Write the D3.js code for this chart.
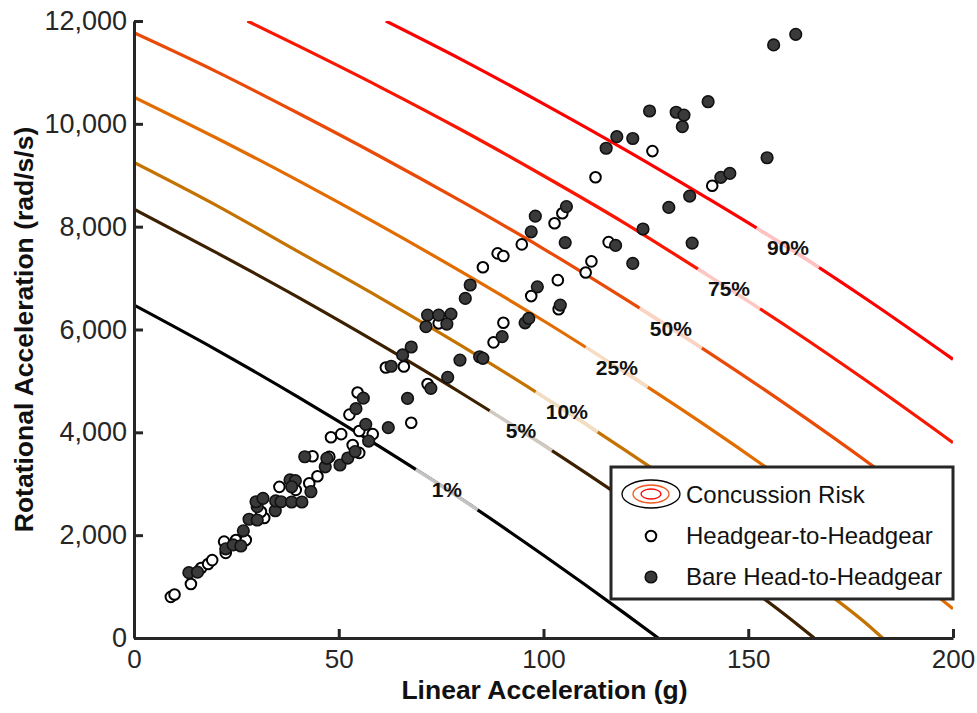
<!DOCTYPE html>
<html>
<head>
<meta charset="utf-8">
<script src="https://cdn.jsdelivr.net/npm/d3@7"></script>
<style>
  html, body { margin: 0; padding: 0; background: #fff; }
  svg { display: block; font-family: "Liberation Sans", Arial, Helvetica, sans-serif; }
</style>
</head>
<body>
<svg id="chart" width="977" height="713"></svg>
<script>
// ---- Impact data: [linear acceleration (g), rotational acceleration (rad/s/s)] ----
const headgearToHeadgear = [
  [9.0, 800], [9.9, 845], [13.9, 1050], [16.4, 1360], [18.1, 1440], [19.1, 1515],
  [22.4, 1655], [22.0, 1875], [24.9, 1905], [27.3, 1905], [31.8, 2335], [31.0, 2455],
  [35.5, 2940], [39.5, 2880], [42.8, 3010], [44.8, 3145], [43.6, 3535], [47.7, 3525],
  [55.0, 3600], [48.1, 3905], [50.6, 3965], [53.4, 3755], [58.3, 3965], [55.0, 4025],
  [52.6, 4345], [54.6, 4775], [67.7, 4185], [71.7, 4940], [61.5, 5260], [65.9, 5280],
  [74.4, 6120], [85.2, 7210], [88.8, 7480], [90.2, 7430], [94.7, 7655], [102.7, 8065],
  [104.6, 8260], [110.3, 7110], [111.7, 7325], [103.5, 6960], [97.0, 6650], [103.7, 6395],
  [90.2, 6130], [87.8, 5750], [115.9, 7700], [112.7, 8960], [126.6, 9470], [141.2, 8795]
];

const bareHeadToHeadgear = [
  [13.4, 1270], [15.5, 1280], [22.4, 1735], [24.2, 1810], [26.1, 1790], [26.7, 2085],
  [28.1, 2310], [30.1, 2295], [30.1, 2555], [29.8, 2650], [31.5, 2715], [34.5, 2475],
  [34.6, 2665], [35.9, 2650], [38.5, 2645], [41.0, 2645], [38.1, 3075], [39.4, 3060],
  [38.5, 2940], [43.2, 2845], [41.7, 3525], [46.7, 3330], [47.1, 3495], [50.3, 3365],
  [52.2, 3500], [54.0, 3625], [57.3, 3830], [56.6, 4155], [54.2, 4460], [56.0, 4665],
  [62.1, 4090], [66.8, 4660], [72.5, 4855], [62.8, 5285], [65.6, 5505], [67.7, 5660],
  [76.6, 5070], [79.6, 5405], [84.4, 5470], [85.2, 5440], [71.3, 6055], [71.7, 6280],
  [74.4, 6280], [77.4, 6300], [76.4, 6105], [80.9, 6605], [82.1, 6865], [89.9, 5860],
  [95.5, 6130], [96.4, 6215], [98.5, 6830], [104.1, 6475], [97.0, 7900], [98.0, 8205],
  [105.6, 8390], [105.3, 7690], [117.6, 7635], [121.8, 7285], [124.3, 7955], [136.3, 7680],
  [130.6, 8375], [135.7, 8595], [143.3, 8960], [145.5, 9035], [154.6, 9340], [115.3, 9525],
  [117.9, 9750], [121.8, 9715], [125.9, 10250], [132.4, 10225], [134.3, 10170], [133.9, 9945],
  [140.2, 10430], [156.2, 11535], [161.6, 11740]
];

// ---- Concussion risk iso-lines: [linear (g), rotational (rad/s/s)] ----
const riskLabels = ["1%", "5%", "10%", "25%", "50%", "75%", "90%"];
const risk01 = [[0, 6476], [20, 5610], [40, 4690], [60, 3720], [80, 2700], [100, 1610], [120, 470], [128, 0]];
const risk05 = [[0, 8340], [20, 7500], [40, 6630], [60, 5715], [80, 4760], [100, 3750], [120, 2690], [140, 1570], [160, 390], [166.1, 0]];
const risk10 = [[0, 9250], [20, 8420], [40, 7520], [60, 6620], [80, 5680], [100, 4690], [120, 3650], [140, 2560], [160, 1410], [180, 200], [182.8, 0]];
const risk25 = [[0, 10520], [20, 9730], [40, 8900], [60, 8030], [80, 7120], [100, 6170], [120, 5160], [140, 4110], [160, 3000], [180, 1830], [200, 570]];
const risk50 = [[0, 11770], [20, 11020], [40, 10210], [60, 9370], [80, 8490], [100, 7570], [120, 6590], [140, 5570], [160, 4500], [180, 3370], [200, 2170]];
const risk75 = [[27.7, 12000], [40, 11520], [60, 10720], [80, 9880], [100, 8990], [120, 8060], [140, 7060], [160, 6030], [180, 4940], [200, 3800]];
const risk90 = [[61.5, 12000], [80, 11250], [100, 10390], [120, 9495], [140, 8555], [160, 7580], [180, 6530], [200, 5420]];
const riskCurves = [risk01, risk05, risk10, risk25, risk50, risk75, risk90];

// ---- Axis ticks ----
const xTicks = [0, 50, 100, 150, 200];
const yTicks = [0, 2000, 4000, 6000, 8000, 10000, 12000];

// ---- Styling ----
const curveColors = ["#000000", "#3c2000", "#c47200", "#e26c00", "#ea4a08", "#fa1600", "#ff0000"];
const labelAtLinear = [76.4, 94.5, 105.7, 117.9, 131.1, 145.3, 159.7];
const axisColor = "#262626";

const svg = d3.select("#chart");
const x = d3.scaleLinear().domain([0, 200]).range([134, 953]);
const y = d3.scaleLinear().domain([0, 12000]).range([638, 21]);

svg.append("defs").append("clipPath").attr("id", "plotClip")
  .append("rect")
  .attr("x", x(0)).attr("y", y(12000))
  .attr("width", x(200) - x(0)).attr("height", y(0) - y(12000));

const line = d3.line()
  .x(d => x(d[0]))
  .y(d => y(d[1]))
  .curve(d3.curveMonotoneX);

// Risk iso-lines
const curveLayer = svg.append("g").attr("clip-path", "url(#plotClip)");
const paths = riskCurves.map((pts, i) =>
  curveLayer.append("path")
    .attr("d", line(pts))
    .attr("fill", "none")
    .attr("stroke", curveColors[i])
    .attr("stroke-width", 3.2)
    .node()
);

// Find the length along a path where it reaches a given screen x
function lengthAtX(node, px) {
  const total = node.getTotalLength();
  let lo = 0, hi = total;
  for (let k = 0; k < 40; k++) {
    const mid = (lo + hi) / 2;
    if (node.getPointAtLength(mid).x < px) lo = mid; else hi = mid;
  }
  return (lo + hi) / 2;
}

// Faded stretch of each line behind its label, then the label
const labelLayer = svg.append("g");
paths.forEach((node, i) => {
  const total = node.getTotalLength();
  const L = lengthAtX(node, x(labelAtLinear[i]));
  const half = 37;
  curveLayer.append("path")
    .attr("d", node.getAttribute("d"))
    .attr("fill", "none")
    .attr("stroke", "#ffffff")
    .attr("stroke-opacity", 0.76)
    .attr("stroke-width", 3.6)
    .attr("stroke-dasharray", `0,${L - half},${2 * half},${total + 10}`);
  const p = node.getPointAtLength(L);
  labelLayer.append("text")
    .attr("x", p.x)
    .attr("y", p.y)
    .attr("dy", "0.36em")
    .attr("text-anchor", "middle")
    .attr("font-size", 21)
    .attr("font-weight", "bold")
    .attr("fill", "#111")
    .text(riskLabels[i]);
});

// Impact markers
const markerLayer = svg.append("g");
markerLayer.selectAll("circle.hh")
  .data(headgearToHeadgear)
  .join("circle")
  .attr("class", "hh")
  .attr("cx", d => x(d[0]))
  .attr("cy", d => y(d[1]))
  .attr("r", 5.3)
  .attr("fill", "#ffffff")
  .attr("stroke", "#000")
  .attr("stroke-width", 2);

markerLayer.selectAll("circle.bh")
  .data(bareHeadToHeadgear)
  .join("circle")
  .attr("class", "bh")
  .attr("cx", d => x(d[0]))
  .attr("cy", d => y(d[1]))
  .attr("r", 5.8)
  .attr("fill", "#3a3a3a")
  .attr("stroke", "#111")
  .attr("stroke-width", 1.6);

// Axes
const xAxis = d3.axisBottom(x).tickValues(xTicks).tickSizeInner(-9).tickSizeOuter(0).tickPadding(12)
  .tickFormat(d3.format("d"));
const yAxis = d3.axisLeft(y).tickValues(yTicks).tickSizeInner(-9).tickSizeOuter(0).tickPadding(7)
  .tickFormat(d3.format(","));

const gx = svg.append("g").attr("transform", `translate(0,${y(0)})`).call(xAxis);
const gy = svg.append("g").attr("transform", `translate(${x(0)},0)`).call(yAxis);
[gx, gy].forEach(g => {
  g.select(".domain").attr("stroke", axisColor).attr("stroke-width", 3);
  g.selectAll(".tick line").attr("stroke", axisColor).attr("stroke-width", 3);
  g.selectAll(".tick text").attr("fill", axisColor).attr("font-size", 26)
    .attr("font-family", "\"Liberation Sans\", Arial, sans-serif");
});
gy.selectAll(".tick text").attr("font-size", 27);

svg.append("text")
  .attr("x", (x(0) + x(200)) / 2 + 1)
  .attr("y", 699)
  .attr("text-anchor", "middle")
  .attr("font-size", 26.5)
  .attr("font-weight", "bold")
  .attr("fill", "#111")
  .text("Linear Acceleration (g)");

svg.append("text")
  .attr("transform", `translate(33,${(y(0) + y(12000)) / 2}) rotate(-90)`)
  .attr("text-anchor", "middle")
  .attr("font-size", 26.5)
  .attr("font-weight", "bold")
  .attr("fill", "#111")
  .text("Rotational Acceleration (rad/s/s)");

// Legend
const legend = svg.append("g");
legend.append("rect")
  .attr("x", 611).attr("y", 467)
  .attr("width", 342).attr("height", 132)
  .attr("fill", "#fff")
  .attr("stroke", axisColor)
  .attr("stroke-width", 3);

const ell = legend.append("g").attr("transform", "translate(651,494)");
ell.append("ellipse").attr("rx", 29).attr("ry", 14).attr("fill", "none").attr("stroke", "#000").attr("stroke-width", 1.3);
ell.append("ellipse").attr("rx", 18).attr("ry", 9).attr("fill", "none").attr("stroke", "#ee5a22").attr("stroke-width", 1.3);
ell.append("ellipse").attr("rx", 10).attr("ry", 5).attr("fill", "none").attr("stroke", "#ff0000").attr("stroke-width", 1.3);

legend.append("circle").attr("cx", 651).attr("cy", 536).attr("r", 5.3)
  .attr("fill", "#fff").attr("stroke", "#000").attr("stroke-width", 2);
legend.append("circle").attr("cx", 651).attr("cy", 577).attr("r", 5.8)
  .attr("fill", "#3a3a3a").attr("stroke", "#111").attr("stroke-width", 1.6);

const legendText = ["Concussion Risk", "Headgear-to-Headgear", "Bare Head-to-Headgear"];
legend.selectAll("text.lg")
  .data(legendText)
  .join("text")
  .attr("class", "lg")
  .attr("x", 686)
  .attr("y", (d, i) => [503, 544, 585][i])
  .attr("font-size", 24)
  .attr("fill", "#111")
  .text(d => d);
</script>
</body>
</html>
